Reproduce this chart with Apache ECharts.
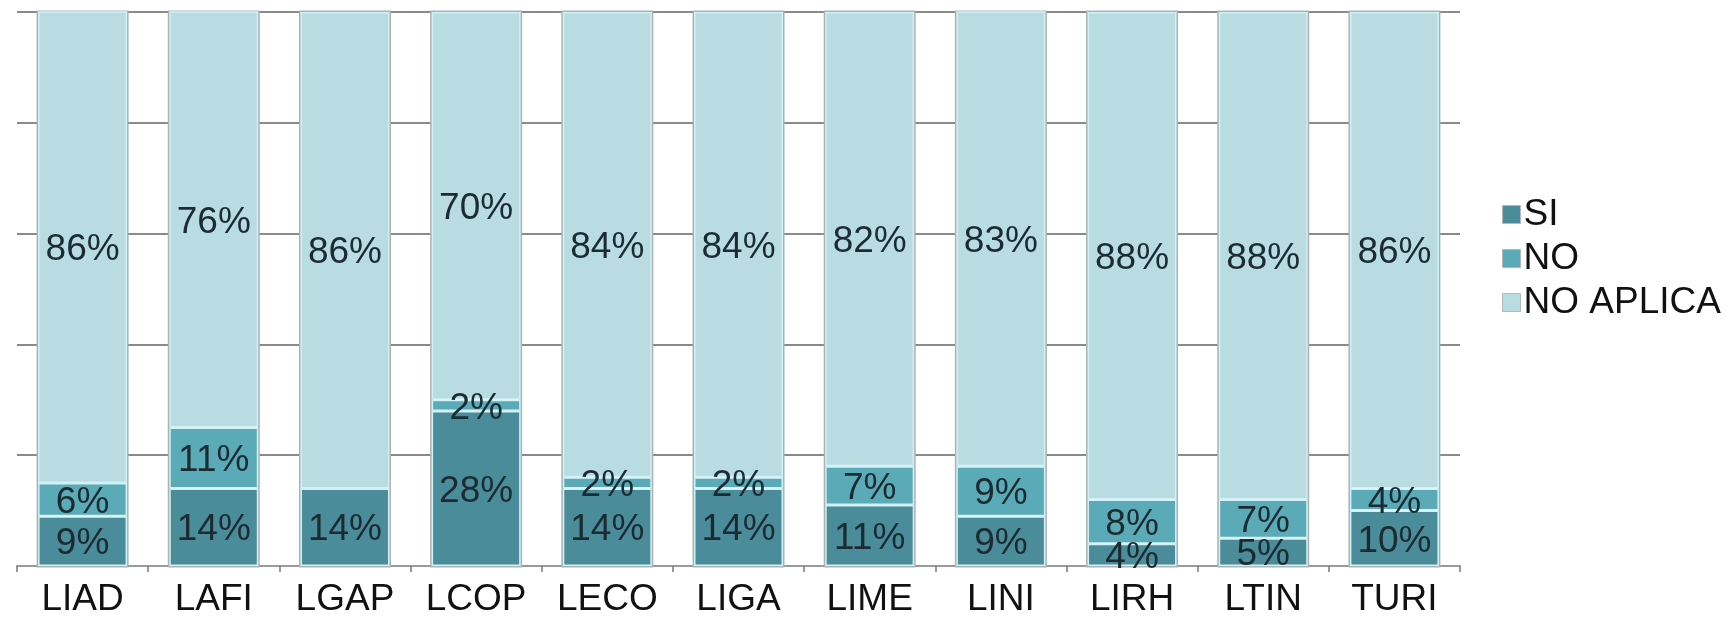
<!DOCTYPE html>
<html>
<head>
<meta charset="utf-8">
<script src="https://cdn.jsdelivr.net/npm/echarts@6/dist/echarts.min.js"></script>
<style>
html,body{margin:0;padding:0;background:#fff;}
#chart{width:1725px;height:618px;}
</style>
</head>
<body>
<div id="chart"></div>
<script>
const categories = ['LIAD','LAFI','LGAP','LCOP','LECO','LIGA','LIME','LINI','LIRH','LTIN','TURI'];
const siValues = [9,14,14,28,14,14,11,9,4,5,10];
const noValues = [6,11,0,2,2,2,7,9,8,7,4];
const noAplicaValues = [86,76,86,70,84,84,82,83,88,88,86];
const seriesNames = ['SI','NO','NO APLICA'];
const yTicks = [0,20,40,60,80,100];

const colors = ['#4b8c9a', '#5aaab7', '#b9dce3'];
const font = 'Liberation Sans, Arial, sans-serif';

function mkSeries(name, data, color, withBg) {
  const s = {
    name: name,
    type: 'bar',
    stack: 'total',
    data: data,
    barWidth: 89,
    itemStyle: { color: color, borderColor: '#d2f1f6', borderWidth: 1.5 },
    label: {
      show: true,
      position: 'inside',
      offset: [0, 3],
      fontFamily: font,
      fontSize: 37,
      color: '#1c2b31',
      formatter: p => p.value ? p.value + '%' : ''
    }
  };
  if (withBg) {
    s.showBackground = true;
    s.backgroundStyle = { color: 'rgba(0,0,0,0)', borderColor: '#a9b3b6', borderWidth: 3 };
  }
  return s;
}

const chart = echarts.init(document.getElementById('chart'), null, {renderer: 'canvas'});
chart.setOption({
  animation: false,
  backgroundColor: '#ffffff',
  grid: { left: 17, right: 265, top: 12, bottom: 50, containLabel: false },
  legend: {
    orient: 'vertical',
    left: 1497,
    top: 191,
    itemWidth: 18,
    itemHeight: 18,
    itemGap: 7,
    icon: 'rect',
    data: seriesNames,
    itemStyle: { borderColor: '#b0b8ba', borderWidth: 1 },
    textStyle: { fontFamily: font, fontSize: 37, color: '#111', padding: [0,0,0,-2] }
  },
  xAxis: {
    type: 'category',
    data: categories,
    axisLine: { lineStyle: { color: '#9a9a9a', width: 2 } },
    axisTick: { show: true, length: 6, lineStyle: { color: '#777', width: 1.5 } },
    axisLabel: { fontFamily: font, fontSize: 37, color: '#111', margin: 15 }
  },
  yAxis: {
    type: 'value',
    min: yTicks[0],
    max: yTicks[yTicks.length-1],
    interval: 20,
    axisLabel: { show: false },
    axisLine: { show: false },
    axisTick: { show: false },
    splitLine: { lineStyle: { color: '#8a8a8a', width: 2 } }
  },
  series: [
    mkSeries(seriesNames[0], siValues, colors[0], true),
    mkSeries(seriesNames[1], noValues, colors[1], false),
    mkSeries(seriesNames[2], noAplicaValues, colors[2], false)
  ]
});
</script>
</body>
</html>
